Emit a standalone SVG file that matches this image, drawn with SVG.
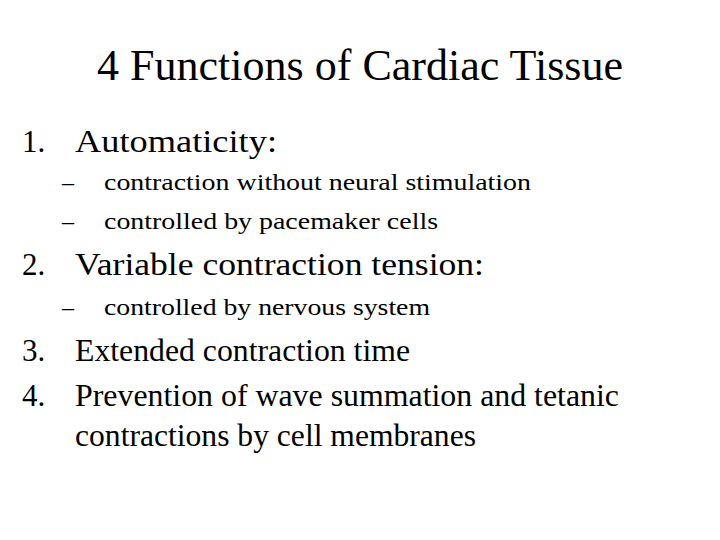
<svg xmlns="http://www.w3.org/2000/svg" width="720" height="540" viewBox="0 0 720 540">
<style>
text{font-family:"Liberation Serif","Times New Roman",serif;fill:#000}
.t{font-size:44px}
.m{font-size:31px}
.s{font-size:24px}
</style>
<rect width="720" height="540" fill="#fff"/>
<g id="title"><text class="t" x="97" y="80" textLength="526" lengthAdjust="spacingAndGlyphs">4 Functions of Cardiac Tissue</text></g>
<g id="item1">
<text class="m" x="22" y="152">1.</text>
<text class="m" x="75" y="152" textLength="202" lengthAdjust="spacingAndGlyphs">Automaticity:</text>
<text class="s" x="62" y="190">–</text>
<text class="s" x="104" y="190" textLength="427" lengthAdjust="spacingAndGlyphs">contraction without neural stimulation</text>
<text class="s" x="62" y="229">–</text>
<text class="s" x="104" y="229" textLength="334" lengthAdjust="spacingAndGlyphs">controlled by pacemaker cells</text>
</g>
<g id="item2">
<text class="m" x="22" y="275">2.</text>
<text class="m" x="75" y="275" textLength="409" lengthAdjust="spacingAndGlyphs">Variable contraction tension:</text>
<text class="s" x="62" y="315">–</text>
<text class="s" x="104" y="315" textLength="326" lengthAdjust="spacingAndGlyphs">controlled by nervous system</text>
</g>
<g id="item3">
<text class="m" x="22" y="361">3.</text>
<text class="m" x="75" y="361" textLength="335" lengthAdjust="spacingAndGlyphs">Extended contraction time</text>
</g>
<g id="item4">
<text class="m" x="22" y="406">4.</text>
<text class="m" x="75" y="406" textLength="544" lengthAdjust="spacingAndGlyphs">Prevention of wave summation and tetanic</text>
<text class="m" x="75" y="446" textLength="401" lengthAdjust="spacingAndGlyphs">contractions by cell membranes</text>
</g>
</svg>
